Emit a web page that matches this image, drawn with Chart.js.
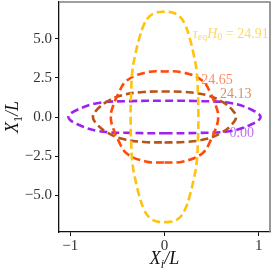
<!DOCTYPE html>
<html lang="en">
<head>
<meta charset="UTF-8">
<title>Shapes</title>
<script src="https://cdn.jsdelivr.net/npm/chart.js@4.4.1/dist/chart.umd.min.js"></script>
<style>
    body { margin: 0; background: #fff; }
    canvas { display: block; }
</style>
</head>
<body>
<canvas id="shapes" width="272" height="272"></canvas>
<script>
// curve values (X_i/L, X_1/L), from bottom going round
const labels = ['24.91', '24.65', '24.13', '0.00'];
const colors = ['#ffc20e', '#ff4a0a', '#b85418', '#9d22ee'];

const yellowPts = [
    [0, -6.74], [0.08, -6.7], [0.16, -6.45], [0.22, -5.9], [0.27, -5.0], [0.31, -4.0], [0.34, -3.0], [0.355, -1.5],
    [0.36, 0], [0.355, 1.5], [0.34, 3.0], [0.31, 4.0], [0.27, 5.0], [0.22, 5.9], [0.16, 6.45], [0.08, 6.7],
    [0, 6.74], [-0.08, 6.7], [-0.16, 6.45], [-0.22, 5.9], [-0.27, 5.0], [-0.31, 4.0], [-0.34, 3.0], [-0.355, 1.5],
    [-0.36, 0], [-0.355, -1.5], [-0.34, -3.0], [-0.31, -4.0], [-0.27, -5.0], [-0.22, -5.9], [-0.16, -6.45], [-0.08, -6.7],
    [0, -6.74]
];
const orangePts = [
    [0, -2.92], [0.2, -2.85], [0.40, -2.34], [0.49, -1.5], [0.56, -0.45],
    [0.57, 0], [0.56, 0.45], [0.49, 1.5], [0.40, 2.34], [0.2, 2.85],
    [0, 2.92], [-0.2, 2.85], [-0.40, 2.34], [-0.49, 1.5], [-0.56, 0.45],
    [-0.57, 0], [-0.56, -0.45], [-0.49, -1.5], [-0.40, -2.34], [-0.2, -2.85],
    [0, -2.92]
];
const brownPts = [
    [0, -1.63], [0.22, -1.60], [0.45, -1.40], [0.62, -0.95], [0.72, -0.45],
    [0.76, 0], [0.72, 0.45], [0.62, 0.95], [0.45, 1.40], [0.22, 1.60],
    [0, 1.63], [-0.22, 1.60], [-0.45, 1.40], [-0.62, 0.95], [-0.72, 0.45],
    [-0.76, 0], [-0.72, -0.45], [-0.62, -0.95], [-0.45, -1.40], [-0.22, -1.60],
    [0, -1.63]
];
const purplePts = [
    [0, -1.04], [0.35, -1.02], [0.70, -0.90], [0.93, -0.45],
    [1.02, 0], [0.93, 0.45], [0.70, 0.90], [0.35, 1.02],
    [0, 1.04], [-0.35, 1.02], [-0.70, 0.90], [-0.93, 0.45],
    [-1.02, 0], [-0.93, -0.45], [-0.70, -0.90], [-0.35, -1.02],
    [0, -1.04]
];
const curves = [yellowPts, orangePts, brownPts, purplePts];

const xTicks = [-1, 0, 1];
const yTicks = [-5, -2.5, 0, 2.5, 5];

// where each label sits, in data units (left edge, middle)
const labelAt = [[0.30, 5.3], [0.39, 2.37], [0.59, 1.47], [0.69, -1.03]];

const serif = '"Liberation Serif", "DejaVu Serif", serif';

function withAlpha(hex, a) {
    const n = parseInt(hex.slice(1), 16);
    return 'rgba(' + (n >> 16) + ',' + ((n >> 8) & 255) + ',' + (n & 255) + ',' + a + ')';
}

// draws text pieces one after another (for sub-scripts), returns new x
function textRun(ctx, parts, x, y) {
    parts.forEach(p => {
        ctx.font = p.font;
        ctx.fillText(p.t, x, y + (p.dy || 0));
        x += ctx.measureText(p.t).width;
    });
    return x;
}

function runWidth(ctx, parts) {
    let w = 0;
    parts.forEach(p => { ctx.font = p.font; w += ctx.measureText(p.t).width; });
    return w;
}

const decorations = {
    id: 'decorations',
    afterDraw(chart) {
        const ctx = chart.ctx;
        const a = chart.chartArea;
        const xs = chart.scales.x, ys = chart.scales.y;
        ctx.save();

        // top and right frame lines in gray
        ctx.strokeStyle = '#808080';
        ctx.lineWidth = 1.6;
        ctx.beginPath();
        ctx.moveTo(a.left, a.top);
        ctx.lineTo(a.right, a.top);
        ctx.lineTo(a.right, a.bottom);
        ctx.stroke();

        // curve labels
        ctx.textBaseline = 'middle';
        labels.forEach((lab, i) => {
            const px = xs.getPixelForValue(labelAt[i][0]);
            const py = ys.getPixelForValue(labelAt[i][1]);
            ctx.fillStyle = withAlpha(colors[i], 0.65);
            if (i === 0) {
                textRun(ctx, [
                    { t: 'τ', font: 'italic 14px ' + serif },
                    { t: 'eq', font: '10px ' + serif, dy: 3 },
                    { t: 'H', font: 'italic 14px ' + serif },
                    { t: '0', font: '10px ' + serif, dy: 3 },
                    { t: ' = ' + lab, font: '14px ' + serif }
                ], px, py);
            } else {
                ctx.font = '14px ' + serif;
                ctx.fillText(lab, px, py);
            }
        });

        // axis titles
        ctx.fillStyle = '#111';
        ctx.textBaseline = 'alphabetic';
        const xt = [
            { t: 'X', font: 'italic 18px ' + serif },
            { t: 'i', font: 'italic 12px ' + serif, dy: 4 },
            { t: '/L', font: 'italic 18px ' + serif }
        ];
        textRun(ctx, xt, xs.getPixelForValue(0) - runWidth(ctx, xt) / 2, 264);

        const yt = [
            { t: 'X', font: 'italic 18px ' + serif },
            { t: '1', font: '12px ' + serif, dy: 4 },
            { t: '/L', font: 'italic 18px ' + serif }
        ];
        const w = runWidth(ctx, yt);
        ctx.translate(18, ys.getPixelForValue(0));
        ctx.rotate(-Math.PI / 2);
        textRun(ctx, yt, -w / 2, 0);
        ctx.restore();
    }
};

function tickLabel(v) {
    return v < 0 ? '\u2212' + Math.abs(v).toFixed(1) : v.toFixed(1);
}

new Chart(document.getElementById('shapes'), {
    type: 'scatter',
    data: {
        datasets: curves.map((pts, i) => ({
            label: labels[i],
            data: pts.map(p => ({ x: p[0], y: p[1] })),
            showLine: true,
            borderColor: colors[i],
            borderWidth: 2.6,
            borderDash: [8, 4],
            tension: 0.4,
            pointRadius: 0,
            fill: false
        }))
    },
    options: {
        responsive: false,
        animation: false,
        layout: { padding: { top: 2, right: 2, left: 0, bottom: 0 } },
        plugins: { legend: { display: false }, tooltip: { enabled: false } },
        scales: {
            x: {
                type: 'linear',
                min: -1.12,
                max: 1.12,
                afterBuildTicks: s => { s.ticks = xTicks.map(v => ({ value: v })); },
                afterFit: s => { s.height = 40; s.paddingLeft = 0; s.paddingRight = 0; },
                grid: { drawOnChartArea: false, tickLength: 4, color: '#111' },
                border: { color: '#111', width: 1.3 },
                ticks: {
                    color: '#333',
                    font: { family: serif, size: 15 },
                    padding: 1,
                    maxRotation: 0,
                    callback: v => v < 0 ? '\u2212' + Math.abs(v) : String(v)
                }
            },
            y: {
                type: 'linear',
                min: -7.37,
                max: 7.37,
                afterBuildTicks: s => { s.ticks = yTicks.map(v => ({ value: v })); },
                afterFit: s => { s.width = 59; s.paddingTop = 0; s.paddingBottom = 0; },
                grid: { drawOnChartArea: false, tickLength: 4, color: '#111' },
                border: { color: '#111', width: 1.3 },
                ticks: {
                    color: '#333',
                    font: { family: serif, size: 15 },
                    padding: 3,
                    callback: tickLabel
                }
            }
        }
    },
    plugins: [decorations]
});
</script>
</body>
</html>
